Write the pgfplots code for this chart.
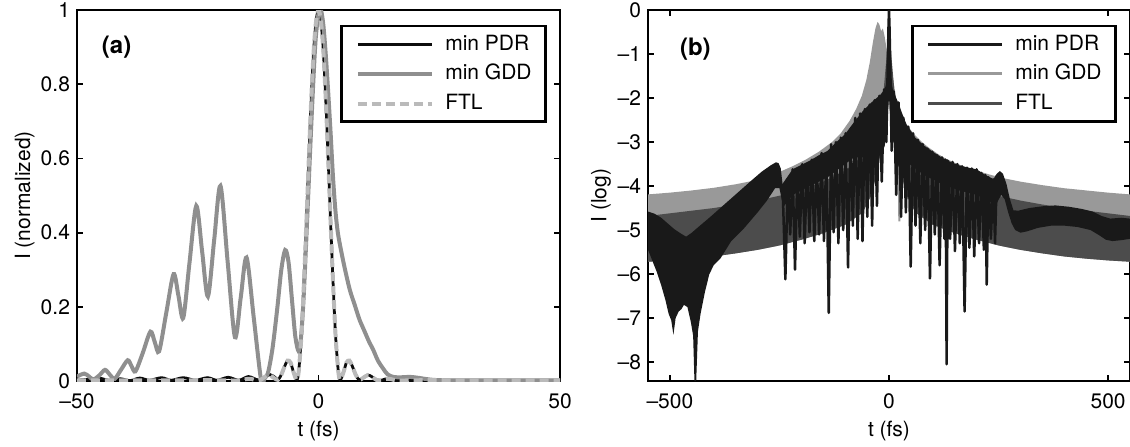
\documentclass[border=0pt]{standalone}
\usepackage{fontspec}
\setmainfont{TeX Gyre Heros}
\usepackage{pgfplots}
\pgfplotsset{compat=1.18}
\definecolor{pdrA}{gray}{0.05}
\definecolor{gddA}{gray}{0.56}
\definecolor{ftlA}{gray}{0.73}
\definecolor{pdrB}{gray}{0.1}
\definecolor{gddB}{gray}{0.6}
\definecolor{ftlB}{gray}{0.3}
\pgfplotsset{
  mystyle/.style={
    scale only axis, height=185.5pt, anchor=south west,
    axis line style={line width=1.4pt},
    tick align=inside, major tick length=2.8pt,
    every tick/.style={black, line width=0.9pt},
    ticklabel style={font=\fontsize{10.5}{12}\selectfont},
    label style={font=\fontsize{10.5}{12}\selectfont},
    xticklabel style={yshift=-3pt},
    legend style={draw=black, line width=1.4pt, at={(rel axis cs:1,1)}, anchor=north east,
      xshift=-6.5pt, yshift=-7.3pt, inner xsep=7pt, inner ysep=1.6pt,
      column sep=5.7pt,
      nodes={inner xsep=0pt, inner ysep=2.85pt, text height=7.6pt, text depth=1.6pt},
      font=\fontsize{10.5}{12}\selectfont},
    legend cell align=left,
    legend image code/.code={\draw[##1] (0pt,0pt) -- (37pt,0pt);},
  }
}
\begin{document}
\begin{tikzpicture}
\path[use as bounding box] (0,0) rectangle (565pt,223pt);
% ---------------- panel (a)
\begin{axis}[mystyle, width=241.5pt, at={(38.5pt,32.5pt)},
  xmin=-50, xmax=50, ymin=0, ymax=1,
  xtick={-50,0,50}, xticklabels={--50,0,50},
  ytick={0,0.2,0.4,0.6,0.8,1}, yticklabels={0,0.2,0.4,0.6,0.8,1},
  xlabel={t (fs)}, ylabel={I (normalized)},
  x label style={at={(axis description cs:0.5,-0.1348)}, anchor=center},
  y label style={at={(axis description cs:-0.1085,0.5)}, anchor=center},
  legend entries={min PDR, min GDD, FTL},
]
\addlegendimage{pdrA, line width=1.5pt}
\addlegendimage{gddA, line width=2pt}
\addlegendimage{ftlA, line width=2pt, dash pattern=on 4.5pt off 2.5pt}
\addplot[pdrA, line width=1.4pt, smooth, forget plot] coordinates {
(-50,0.002) (-48,0.004) (-46,0.002) (-45,0.007) (-43.5,0.002) (-41,0.006) (-39,0.001) (-37,0.008) (-35,0.002) (-32.5,0.009) (-30.5,0.002) (-28,0.009) (-25.5,0.002) (-23,0.009) (-21,0.002) (-18.7,0.01) (-16.5,0.002) (-14.5,0.012) (-12.5,0.003) (-11,0.012) (-10,0.017) (-9,0.01) (-8.4,0.003) (-7.7,0.017) (-7,0.04) (-6.4,0.055) (-5.8,0.05) (-5.2,0.025) (-4.6,0.004) (-4.3,0.008) (-4,0.04) (-3.5,0.13) (-3,0.27) (-2.5,0.43) (-2,0.6) (-1.5,0.76) (-1,0.89) (-0.5,0.97) (0,1) (0.5,0.97) (1,0.89) (1.5,0.76) (2,0.6) (2.5,0.43) (3,0.27) (3.5,0.13) (4,0.04) (4.3,0.008) (4.6,0.004) (5.2,0.025) (5.8,0.05) (6.4,0.055) (7,0.04) (7.7,0.017) (8.4,0.003) (9.2,0.008) (10.2,0.016) (11,0.012) (12,0.003) (13,0.002) (14,0.006) (15,0.005) (16.5,0.001) (20,0.002) (30,0.002) (40,0.002) (50,0.002)};
\addplot[gddA, line width=2pt, smooth, forget plot] coordinates {
(-50,0.012) (-48.5,0.02) (-47.5,0.012) (-46.6,0.004) (-45.4,0.015) (-44.2,0.03) (-43.2,0.017) (-42.2,0.006) (-40.9,0.03) (-39.5,0.056) (-38.7,0.04) (-37.9,0.026) (-36.4,0.075) (-34.8,0.133) (-33.9,0.105) (-33.0,0.08) (-31.5,0.185) (-30.0,0.288) (-29.0,0.23) (-28.0,0.17) (-26.7,0.32) (-25.3,0.472) (-24.1,0.35) (-22.9,0.228) (-21.6,0.38) (-20.3,0.526) (-18.8,0.32) (-17.3,0.118) (-16.1,0.225) (-14.9,0.333) (-13.4,0.17) (-11.9,0.004) (-11.1,0.008) (-10.4,0.025) (-9.5,0.09) (-8.5,0.2) (-7.7,0.3) (-6.9,0.353) (-6.2,0.32) (-5.5,0.22) (-4.8,0.12) (-4.1,0.08) (-3.6,0.12) (-3.1,0.22) (-2.6,0.36) (-2.1,0.51) (-1.6,0.66) (-1.1,0.8) (-0.6,0.92) (0,0.99) (0.5,1.0) (1.0,0.96) (1.5,0.88) (2.0,0.78) (2.5,0.67) (3.0,0.55) (3.5,0.46) (4.0,0.4) (4.7,0.35) (5.5,0.3) (6.5,0.245) (7.5,0.205) (8.5,0.165) (9.5,0.135) (10.5,0.105) (11.3,0.085) (12.3,0.055) (13.3,0.035) (14.3,0.018) (15.5,0.011) (17,0.01) (19,0.011) (21,0.008) (23,0.004) (26,0.002) (35,0.002) (50,0.002)};
\addplot[ftlA, line width=2pt, dash pattern=on 4.5pt off 2.5pt, smooth, forget plot] coordinates {
(-50,0.002) (-40,0.002) (-30,0.002) (-20,0.002) (-16.5,0.001) (-15,0.005) (-14,0.006) (-13,0.002) (-12,0.003) (-11,0.012) (-10.2,0.016) (-9.2,0.008) (-8.4,0.003) (-7.7,0.017) (-7,0.04) (-6.4,0.055) (-5.8,0.05) (-5.2,0.025) (-4.6,0.004) (-4.3,0.008) (-4,0.04) (-3.5,0.13) (-3,0.27) (-2.5,0.43) (-2,0.6) (-1.5,0.76) (-1,0.89) (-0.5,0.97) (0,1) (0.5,0.97) (1,0.89) (1.5,0.76) (2,0.6) (2.5,0.43) (3,0.27) (3.5,0.13) (4,0.04) (4.3,0.008) (4.6,0.004) (5.2,0.025) (5.8,0.05) (6.4,0.055) (7,0.04) (7.7,0.017) (8.4,0.003) (9.2,0.008) (10.2,0.016) (11,0.012) (12,0.003) (13,0.002) (14,0.006) (15,0.005) (16.5,0.001) (20,0.002) (30,0.002) (40,0.002) (50,0.002)};
\node[anchor=west, font=\fontsize{12}{14}\selectfont\bfseries] at (axis cs:-46.3,0.9) {(a)};
\end{axis}
% ---------------- panel (b)
\begin{axis}[mystyle, width=241pt, at={(324pt,32.5pt)},
  xmin=-550, xmax=550, ymin=-8.43, ymax=0,
  xtick={-500,0,500}, xticklabels={--500,0,500},
  ytick={-8,-7,-6,-5,-4,-3,-2,-1,0}, yticklabels={--8,--7,--6,--5,--4,--3,--2,--1,0},
  xlabel={t (fs)}, ylabel={I (log)},
  x label style={at={(axis description cs:0.5,-0.1348)}, anchor=center},
  y label style={at={(axis description cs:-0.0975,0.5)}, anchor=center},
  legend entries={min PDR, min GDD, FTL},
]
\addlegendimage{pdrB, line width=1.5pt}
\addlegendimage{gddB, line width=1.5pt}
\addlegendimage{ftlB, line width=1.5pt}
% min GDD band
\addplot[fill=gddB, draw=none, forget plot] coordinates {
(-550,-4.19) (-500,-4.15) (-450,-4.1) (-400,-4.04) (-350,-3.96) (-300,-3.86) (-270,-3.77) (-250,-3.68) (-220,-3.55) (-190,-3.4) (-160,-3.22) (-130,-3.0) (-110,-2.8) (-90,-2.52) (-75,-2.25) (-62,-1.95) (-52,-1.6) (-44,-1.2) (-37,-0.75) (-31,-0.42) (-26,-0.27) (-22,-0.33) (-18,-0.48) (-14,-0.42) (-10,-0.6) (-6,-0.85) (-2,-1.0) (2,-1.1) (6,-1.35) (10,-1.6) (14,-1.9) (18,-2.15) (22,-2.3) (26,-2.38) (32,-2.48) (40,-2.6) (50,-2.73) (60,-2.85) (75,-3.0) (90,-3.12) (110,-3.26) (130,-3.38) (150,-3.47) (175,-3.57) (200,-3.65) (230,-3.74) (260,-3.82) (300,-3.9) (350,-3.98) (400,-4.05) (450,-4.1) (500,-4.15) (550,-4.19)
(550,-5.72) (500,-5.69) (450,-5.65) (400,-5.6) (350,-5.53) (300,-5.45) (250,-5.35) (200,-5.22) (150,-5.07) (100,-4.88) (60,-4.6) (40,-4.2) (25,-3.6) (10,-2.6) (0,-1.6) (-10,-2.6) (-25,-3.6) (-40,-4.2) (-60,-4.6) (-100,-4.88) (-150,-5.07) (-200,-5.22) (-250,-5.35) (-300,-5.45) (-350,-5.53) (-400,-5.6) (-450,-5.65) (-500,-5.69) (-550,-5.72)};
\addplot[gddB, line width=1pt, forget plot] coordinates {(21,-2.3) (23.5,-4.8) (26,-2.4)};
% FTL band
\addplot[fill=ftlB, draw=none, forget plot] coordinates {
(-550,-4.68) (-500,-4.62) (-450,-4.56) (-400,-4.5) (-350,-4.42) (-300,-4.33) (-250,-4.22) (-200,-4.08) (-150,-3.9) (-100,-3.65) (-70,-3.4) (-45,-3.0) (-25,-2.5) (-12,-1.8) (-5,-1.0) (0,0) (5,-1.0) (12,-1.8) (25,-2.5) (45,-3.0) (70,-3.4) (100,-3.65) (150,-3.9) (200,-4.08) (250,-4.22) (300,-4.33) (350,-4.42) (400,-4.5) (450,-4.56) (500,-4.62) (550,-4.68)
(550,-5.72) (500,-5.69) (450,-5.65) (400,-5.6) (350,-5.53) (300,-5.45) (250,-5.35) (200,-5.22) (150,-5.07) (100,-4.88) (60,-4.6) (40,-4.2) (25,-3.6) (10,-2.6) (0,-1.6) (-10,-2.6) (-25,-3.6) (-40,-4.2) (-60,-4.6) (-100,-4.88) (-150,-5.07) (-200,-5.22) (-250,-5.35) (-300,-5.45) (-350,-5.53) (-400,-5.6) (-450,-5.65) (-500,-5.69) (-550,-5.72)};
% min PDR: left band
\addplot[fill=pdrB, draw=none, forget plot] coordinates {
(-550,-4.58) (-535,-4.63) (-520,-4.72) (-505,-4.85) (-490,-4.98) (-475,-5.08) (-463,-5.15) (-450,-5.06) (-435,-4.93) (-410,-4.72) (-385,-4.5) (-360,-4.28) (-335,-4.06) (-310,-3.84) (-290,-3.67) (-270,-3.53) (-258,-3.46) (-252,-3.48) (-247,-3.6) (-243,-3.95)
(-243,-4.4) (-250,-4.05) (-260,-4.05) (-280,-4.35) (-300,-4.6) (-330,-4.95) (-360,-5.25) (-385,-5.65) (-400,-5.8) (-410,-6.0) (-420,-6.4) (-430,-6.9) (-436,-7.3) (-440,-8.43) (-444,-8.43) (-447,-7.4) (-452,-7.1) (-460,-6.75) (-468,-6.7) (-474,-6.8) (-480,-6.85) (-487,-7.0) (-492,-7.38) (-497,-7.05) (-503,-6.9) (-510,-6.6) (-520,-6.25) (-530,-5.95) (-540,-5.7) (-550,-5.45)};
% min PDR: right band
\addplot[fill=pdrB, draw=none, forget plot] coordinates {
(238,-3.85) (246,-3.72) (253,-3.66) (260,-3.72) (268,-3.95) (276,-4.3) (284,-4.55) (295,-4.56) (320,-4.5) (350,-4.46) (380,-4.44) (410,-4.47) (440,-4.52) (465,-4.58) (485,-4.68) (505,-4.74) (530,-4.72) (550,-4.74)
(550,-5.2) (530,-5.23) (510,-5.25) (495,-5.22) (480,-5.12) (460,-5.0) (430,-4.93) (400,-4.9) (370,-4.9) (340,-4.95) (315,-5.03) (300,-5.06) (288,-5.0) (280,-4.85) (272,-4.6) (264,-4.3) (256,-4.2) (248,-4.35) (238,-4.6)};
% min PDR: solid upper part of the comb
\addplot[fill=pdrB, draw=none, forget plot] coordinates {
(-243,-3.95) (-220,-3.62) (-200,-3.52) (-180,-3.42) (-160,-3.3) (-140,-3.2) (-120,-3.0) (-100,-2.82) (-80,-2.55) (-60,-2.3) (-40,-2.1) (-20,-1.93) (-10,-1.8) (-4,-1.6) (-1.5,-0.5) (0,0) (1.5,-0.5) (4,-1.6) (10,-1.85) (20,-2.08) (30,-2.35) (40,-2.6) (50,-2.75) (60,-2.9) (80,-3.08) (100,-3.22) (120,-3.35) (140,-3.45) (160,-3.53) (180,-3.58) (200,-3.62) (220,-3.75) (240,-3.85)
(240,-4.4) (200,-4.2) (160,-4.1) (120,-3.95) (80,-3.75) (60,-3.6) (40,-3.45) (20,-3.2) (10,-3.0) (4,-2.7) (1.5,-2.2) (0,-2.0) (-1.5,-2.2) (-4,-2.7) (-10,-3.1) (-20,-3.3) (-40,-3.4) (-60,-3.35) (-80,-3.35) (-100,-3.5) (-120,-3.65) (-140,-3.8) (-160,-3.9) (-180,-4.0) (-200,-4.1) (-220,-4.2) (-243,-4.5)};
% min PDR: comb teeth
\addplot[pdrB, line width=1.25pt, line join=round, forget plot] coordinates {
(-243,-3.95) (-236.5,-6.12) (-231,-3.85) (-225.5,-5.1) (-220,-3.62) (-214.5,-5.9) (-209,-3.65) (-203.5,-5.15) (-198,-3.5) (-192.5,-5.3) (-187,-3.55) (-181.5,-5.05) (-176,-3.4) (-170.5,-5.25) (-165,-3.42) (-159.5,-5.1) (-154,-3.25) (-148.5,-5.25) (-143,-3.3) (-137.5,-6.88) (-132,-3.05) (-126.5,-5.05) (-121,-3.0) (-115.5,-5.3) (-110,-2.9) (-104.5,-5.0) (-99,-2.8) (-93.5,-5.85) (-88,-2.7) (-82.5,-4.9) (-77,-2.45) (-71.5,-5.2) (-66,-2.35) (-60.5,-5.25) (-55,-2.25) (-49.5,-4.7) (-44,-2.15) (-38.5,-4.9) (-33,-2.05) (-27.5,-4.45) (-22,-1.95) (-16.5,-3.9) (-11,-1.8) (-6,-3.0) (-3,-1.3) (-1.2,-0.4) (0,0) (1.2,-0.4) (3,-1.3) (6,-3.2) (11,-1.85) (16.5,-4.2) (22,-2.1) (27.5,-4.7) (33,-2.45) (38.5,-4.6) (44,-2.65) (49.5,-5.83) (55,-2.8) (60.5,-4.9) (66,-2.95) (71.5,-5.3) (77,-3.05) (82.5,-5.0) (88,-3.15) (93.5,-6.1) (99,-3.22) (104.5,-5.1) (110,-3.3) (115.5,-5.8) (121,-3.35) (126.5,-5.2) (129,-3.4) (131.5,-8.05) (134,-3.42) (139.5,-5.2) (145,-3.45) (150.5,-5.48) (156,-3.5) (161.5,-5.3) (167,-3.55) (172.5,-6.85) (178,-3.58) (183.5,-5.4) (189,-3.6) (194.5,-5.6) (200,-3.62) (205.5,-5.3) (211,-3.7) (216.5,-5.45) (220,-3.75) (223,-6.24) (227,-3.8) (232.5,-5.2) (238,-3.85) (242,-5.3) (246,-3.75)};
\node[anchor=west, font=\fontsize{12}{14}\selectfont\bfseries] at (axis cs:-493,-0.895) {(b)};
\end{axis}
\end{tikzpicture}
\end{document}
